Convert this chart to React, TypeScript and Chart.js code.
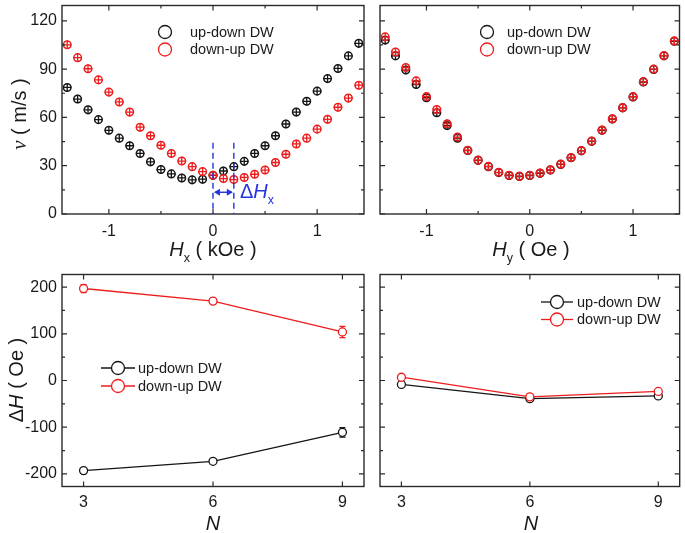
import React, { useEffect, useRef } from 'react';
import { Chart, registerables } from 'chart.js';

Chart.register(...registerables);

// ---------- data ----------
const hxValues = [-1.4, -1.3, -1.2, -1.1, -1.0, -0.9, -0.8, -0.7, -0.6, -0.5, -0.4, -0.3, -0.2, -0.1, 0, 0.1, 0.2, 0.3, 0.4, 0.5, 0.6, 0.7, 0.8, 0.9, 1.0, 1.1, 1.2, 1.3, 1.4];
const vxUpDown = [78.6, 71.4, 64.7, 58.6, 52.0, 47.1, 42.4, 37.6, 32.4, 27.6, 24.9, 22.4, 21.2, 21.6, 24.0, 26.7, 29.4, 32.7, 37.6, 42.4, 48.6, 55.9, 63.3, 70.0, 76.3, 84.1, 90.4, 98.2, 106.0];
const vxDownUp = [105.1, 97.1, 90.2, 83.3, 75.7, 69.6, 63.3, 53.9, 48.6, 42.7, 37.6, 32.9, 29.4, 26.3, 24.1, 22.0, 21.4, 22.7, 24.7, 27.3, 32.0, 37.1, 43.5, 47.1, 52.7, 58.8, 66.3, 72.0, 80.0];

const hyValues = [-1.4, -1.3, -1.2, -1.1, -1.0, -0.9, -0.8, -0.7, -0.6, -0.5, -0.4, -0.3, -0.2, -0.1, 0, 0.1, 0.2, 0.3, 0.4, 0.5, 0.6, 0.7, 0.8, 0.9, 1.0, 1.1, 1.2, 1.3, 1.4];
const vyUpDown = [108.0, 98.2, 89.4, 80.4, 72.2, 62.9, 54.9, 47.1, 39.4, 33.3, 29.4, 25.7, 23.9, 23.3, 23.9, 25.3, 27.3, 30.8, 34.9, 39.2, 45.1, 52.0, 59.0, 65.9, 72.7, 82.0, 89.8, 98.2, 107.3];
const vyDownUp = [110.0, 100.6, 91.0, 82.7, 72.9, 64.9, 56.1, 47.8, 39.6, 33.5, 29.6, 25.9, 24.1, 23.5, 24.1, 25.5, 27.5, 31.0, 35.1, 39.4, 45.3, 52.2, 59.2, 66.1, 72.9, 82.2, 90.0, 98.4, 107.5];

const nValues = [3, 6, 9];
const dHxUpDown = [-193, -173, -111];
const dHxUpDownErr = [4, 4, 10];
const dHxDownUp = [197, 170, 104];
const dHxDownUpErr = [8.5, 5, 12];
const dHyUpDown = [-8.5, -39, -33];
const dHyUpDownErr = [3, 3, 3];
const dHyDownUp = [7, -35, -23.5];
const dHyDownUpErr = [4, 3, 4];

const seriesLabels = ['up-down DW', 'down-up DW'];

const hRange = [-1.45, 1.45];
const vRange = [0, 129.5];
const nRange = [2.5, 9.5];
const dHRange = [-227, 227];

const hTicksMajor = [-1, 0, 1];
const hTicksMinor = [-0.5, 0.5];
const vTicksMajor = [0, 30, 60, 90, 120];
const vTicksMinor = [15, 45, 75, 105];
const nTicksMajor = [3, 6, 9];
const dHTicksMajor = [-200, -100, 0, 100, 200];
const dHTicksMinor = [-150, -50, 50, 150];

const deltaHxMarks = [0, 0.2];
const deltaHxLineTop = 44.3;
const deltaHxArrowY = 13.5;

// ---------- styles ----------
const BLACK = '#151515';
const RED = '#ee1c1c';
const BLUE = '#2234e0';
const FRAME = '#2a2a2a';
const SANS = '"Liberation Sans", Arial, Helvetica, sans-serif';

// ---------- plugins ----------
const framePlugin = {
  id: 'frame',
  afterDatasetsDraw(chart: any, _a: any, opts: any) {
    const { ctx, chartArea: a, scales } = chart;
    const xs = scales.x;
    const ys = scales.y;
    ctx.save();
    ctx.strokeStyle = FRAME;
    ctx.lineWidth = 1.4;
    ctx.strokeRect(a.left, a.top, a.right - a.left, a.bottom - a.top);
    ctx.lineWidth = 1.2;
    const drawX = (vals: number[], len: number) => {
      (vals || []).forEach((v) => {
        const px = xs.getPixelForValue(v);
        ctx.beginPath();
        ctx.moveTo(px, a.bottom);
        ctx.lineTo(px, a.bottom - len);
        ctx.moveTo(px, a.top);
        ctx.lineTo(px, a.top + len);
        ctx.stroke();
      });
    };
    const drawY = (vals: number[], len: number) => {
      (vals || []).forEach((v) => {
        const py = ys.getPixelForValue(v);
        ctx.beginPath();
        ctx.moveTo(a.left, py);
        ctx.lineTo(a.left + len, py);
        ctx.moveTo(a.right, py);
        ctx.lineTo(a.right - len, py);
        ctx.stroke();
      });
    };
    drawX(opts.xMajor, 5);
    drawX(opts.xMinor, 3);
    drawY(opts.yMajor, 5);
    drawY(opts.yMinor, 3);
    ctx.restore();
  },
};

const errorBarPlugin = {
  id: 'errbars',
  beforeDatasetsDraw(chart: any, _a: any, opts: any) {
    const errs = opts && opts.errors;
    if (!errs) return;
    const { ctx } = chart;
    const ys = chart.scales.y;
    chart.data.datasets.forEach((ds: any, i: number) => {
      const e = errs[i];
      if (!e) return;
      const meta = chart.getDatasetMeta(i);
      ctx.save();
      ctx.strokeStyle = ds.borderColor;
      ctx.lineWidth = 1.3;
      meta.data.forEach((pt: any, j: number) => {
        const v = ds.data[j].y;
        const y1 = ys.getPixelForValue(v - e[j]);
        const y2 = ys.getPixelForValue(v + e[j]);
        ctx.beginPath();
        ctx.moveTo(pt.x, y1);
        ctx.lineTo(pt.x, y2);
        ctx.moveTo(pt.x - 3, y1);
        ctx.lineTo(pt.x + 3, y1);
        ctx.moveTo(pt.x - 3, y2);
        ctx.lineTo(pt.x + 3, y2);
        ctx.stroke();
      });
      ctx.restore();
    });
  },
};

const legendPlugin = {
  id: 'boxlegend',
  afterDraw(chart: any, _a: any, opts: any) {
    if (!opts || !opts.items) return;
    const { ctx } = chart;
    ctx.save();
    opts.items.forEach((it: any, i: number) => {
      const y = opts.y + i * opts.dy;
      ctx.strokeStyle = it.color;
      ctx.lineWidth = 1.3;
      if (opts.line) {
        ctx.beginPath();
        ctx.moveTo(opts.cx - opts.half, y);
        ctx.lineTo(opts.cx + opts.half, y);
        ctx.stroke();
        ctx.fillStyle = '#fff';
        ctx.beginPath();
        ctx.arc(opts.cx, y, 6.5, 0, Math.PI * 2);
        ctx.fill();
        ctx.stroke();
      } else {
        ctx.beginPath();
        ctx.arc(opts.cx, y, 6.5, 0, Math.PI * 2);
        ctx.stroke();
      }
      ctx.fillStyle = '#1a1a1a';
      ctx.font = `14.5px ${SANS}`;
      ctx.textBaseline = 'middle';
      ctx.textAlign = 'left';
      ctx.fillText(it.text, opts.textX, y + 0.5);
    });
    ctx.restore();
  },
};

const deltaPlugin = {
  id: 'deltaH',
  afterDatasetsDraw(chart: any, _a: any, opts: any) {
    if (!opts || !opts.marks) return;
    const { ctx } = chart;
    const xs = chart.scales.x;
    const ys = chart.scales.y;
    const x0 = xs.getPixelForValue(opts.marks[0]);
    const x1 = xs.getPixelForValue(opts.marks[1]);
    const yt = ys.getPixelForValue(opts.top);
    const yb = ys.getPixelForValue(0);
    const ya = ys.getPixelForValue(opts.arrowY);
    ctx.save();
    ctx.strokeStyle = BLUE;
    ctx.fillStyle = BLUE;
    ctx.lineWidth = 1.4;
    ctx.setLineDash([6, 4]);
    [x0, x1].forEach((px) => {
      ctx.beginPath();
      ctx.moveTo(px, yt);
      ctx.lineTo(px, yb);
      ctx.stroke();
    });
    ctx.setLineDash([]);
    ctx.beginPath();
    ctx.moveTo(x0 + 2, ya);
    ctx.lineTo(x1 - 2, ya);
    ctx.stroke();
    ctx.beginPath();
    ctx.moveTo(x0 + 1, ya);
    ctx.lineTo(x0 + 7, ya - 3.5);
    ctx.lineTo(x0 + 7, ya + 3.5);
    ctx.closePath();
    ctx.fill();
    ctx.beginPath();
    ctx.moveTo(x1 - 1, ya);
    ctx.lineTo(x1 - 7, ya - 3.5);
    ctx.lineTo(x1 - 7, ya + 3.5);
    ctx.closePath();
    ctx.fill();
    ctx.restore();
  },
};

// ---------- builders ----------
const tickFont = { family: SANS, size: 16 };

function scaleOpts(range: number[], ticks: number[], showLabels: boolean, pad: number) {
  return {
    type: 'linear',
    min: range[0],
    max: range[1],
    grid: { display: false, drawTicks: false, tickLength: 0 },
    border: { display: false },
    afterBuildTicks: (s: any) => {
      s.ticks = ticks.map((v) => ({ value: v }));
    },
    ticks: {
      display: showLabels,
      font: tickFont,
      color: '#1a1a1a',
      padding: pad,
      maxRotation: 0,
      autoSkip: false,
      callback: (v: any) => String(v),
    },
  };
}

function markerSets(xs: number[], ys: number[], color: string, label: string, order: number) {
  const pts = xs.map((x, i) => ({ x, y: ys[i] }));
  return [
    {
      label,
      data: pts,
      showLine: false,
      pointStyle: 'circle',
      pointRadius: 3.8,
      pointBorderWidth: 1.5,
      pointBorderColor: color,
      pointBackgroundColor: 'rgba(255,255,255,0)',
      borderColor: color,
      order,
    },
    {
      label: label + ' bars',
      data: pts,
      showLine: false,
      pointStyle: 'cross',
      pointRadius: 4.2,
      pointBorderWidth: 1.3,
      pointBorderColor: color,
      borderColor: color,
      order,
    },
  ];
}

function lineSet(xs: number[], ys: number[], color: string, label: string, order: number) {
  return {
    label,
    data: xs.map((x, i) => ({ x, y: ys[i] })),
    showLine: true,
    borderColor: color,
    borderWidth: 1.3,
    pointStyle: 'circle',
    pointRadius: 4,
    pointBorderWidth: 1.3,
    pointBorderColor: color,
    pointBackgroundColor: '#ffffff',
    order,
  };
}

type Rect = { left: number; top: number; width: number; height: number };
type Area = { left: number; top: number; right: number; bottom: number };

function Panel({ rect, area, build }: { rect: Rect; area: Area; build: () => any }) {
  const ref = useRef<HTMLCanvasElement>(null);
  useEffect(() => {
    const cfg = build();
    cfg.options.layout = {
      padding: {
        left: 0,
        top: area.top - rect.top,
        right: rect.left + rect.width - area.right,
        bottom: 0,
      },
    };
    cfg.options.scales.x.afterFit = (s: any) => {
      s.height = rect.top + rect.height - area.bottom;
      s.paddingLeft = 0;
      s.paddingRight = 0;
    };
    cfg.options.scales.y.afterFit = (s: any) => {
      s.width = area.left - rect.left;
      s.paddingTop = 0;
      s.paddingBottom = 0;
    };
    const chart = new Chart(ref.current as HTMLCanvasElement, cfg);
    return () => chart.destroy();
  }, []);
  return (
    <canvas
      ref={ref}
      width={rect.width}
      height={rect.height}
      style={{ position: 'absolute', left: rect.left, top: rect.top, width: rect.width, height: rect.height, display: 'block' }}
    />
  );
}

function baseOptions(xs: any, ys: any, plugins: any) {
  return {
    responsive: false,
    animation: false,
    events: [],
    plugins: { legend: { display: false }, tooltip: { enabled: false }, ...plugins },
    scales: { x: xs, y: ys },
  };
}

const buildTL = () => ({
  type: 'scatter',
  data: {
    datasets: [
      ...markerSets(hxValues, vxUpDown, BLACK, seriesLabels[0], 2),
      ...markerSets(hxValues, vxDownUp, RED, seriesLabels[1], 1),
    ],
  },
  options: baseOptions(scaleOpts(hRange, hTicksMajor, true, 8), scaleOpts(vRange, vTicksMajor, true, 5), {
    frame: { xMajor: hTicksMajor, xMinor: hTicksMinor, yMajor: vTicksMajor, yMinor: vTicksMinor },
    boxlegend: { items: [{ text: seriesLabels[0], color: BLACK }, { text: seriesLabels[1], color: RED }], cx: 165, y: 32, dy: 17.5, textX: 190 },
    deltaH: { marks: deltaHxMarks, top: deltaHxLineTop, arrowY: deltaHxArrowY },
  }),
  plugins: [framePlugin, legendPlugin, deltaPlugin],
});

const buildTR = () => ({
  type: 'scatter',
  data: {
    datasets: [
      ...markerSets(hyValues, vyUpDown, BLACK, seriesLabels[0], 2),
      ...markerSets(hyValues, vyDownUp, RED, seriesLabels[1], 1),
    ],
  },
  options: baseOptions(scaleOpts(hRange, hTicksMajor, true, 8), scaleOpts(vRange, vTicksMajor, false, 5), {
    frame: { xMajor: hTicksMajor, xMinor: hTicksMinor, yMajor: vTicksMajor, yMinor: vTicksMinor },
    boxlegend: { items: [{ text: seriesLabels[0], color: BLACK }, { text: seriesLabels[1], color: RED }], cx: 115, y: 32, dy: 17.5, textX: 135 },
  }),
  plugins: [framePlugin, legendPlugin],
});

const buildBL = () => ({
  type: 'scatter',
  data: {
    datasets: [
      lineSet(nValues, dHxUpDown, BLACK, seriesLabels[0], 2),
      lineSet(nValues, dHxDownUp, RED, seriesLabels[1], 1),
    ],
  },
  options: baseOptions(scaleOpts(nRange, nTicksMajor, true, 6), scaleOpts(dHRange, dHTicksMajor, true, 5), {
    frame: { xMajor: nTicksMajor, xMinor: [], yMajor: dHTicksMajor, yMinor: dHTicksMinor },
    errbars: { errors: [dHxUpDownErr, dHxDownUpErr] },
    boxlegend: { items: [{ text: seriesLabels[0], color: BLACK }, { text: seriesLabels[1], color: RED }], line: true, cx: 118, half: 17, y: 106, dy: 18, textX: 138 },
  }),
  plugins: [errorBarPlugin, framePlugin, legendPlugin],
});

const buildBR = () => ({
  type: 'scatter',
  data: {
    datasets: [
      lineSet(nValues, dHyUpDown, BLACK, seriesLabels[0], 2),
      lineSet(nValues, dHyDownUp, RED, seriesLabels[1], 1),
    ],
  },
  options: baseOptions(scaleOpts(nRange, nTicksMajor, true, 6), scaleOpts(dHRange, dHTicksMajor, false, 5), {
    frame: { xMajor: nTicksMajor, xMinor: [], yMajor: dHTicksMajor, yMinor: dHTicksMinor },
    errbars: { errors: [dHyUpDownErr, dHyDownUpErr] },
    boxlegend: { items: [{ text: seriesLabels[0], color: BLACK }, { text: seriesLabels[1], color: RED }], line: true, cx: 185, half: 16, y: 40, dy: 17.5, textX: 205 },
  }),
  plugins: [errorBarPlugin, framePlugin, legendPlugin],
});

// ---------- text ----------
function Txt({ x, y, rotate, align, color, children }: any) {
  const tx = align === 'left' ? 'translate(0,-50%)' : 'translate(-50%,-50%)';
  return (
    <div
      style={{
        position: 'absolute',
        left: x,
        top: y,
        transform: tx + (rotate ? ' rotate(-90deg)' : ''),
        font: `20px ${SANS}`,
        color: color || '#1a1a1a',
        whiteSpace: 'nowrap',
        lineHeight: 1,
      }}
    >
      {children}
    </div>
  );
}

const subStyle: any = { fontSize: '12.5px', verticalAlign: '-0.45em', lineHeight: 0 };

export default function App() {
  return (
    <div style={{ position: 'absolute', left: 0, top: 0, width: 685, height: 533, background: '#fff', overflow: 'hidden' }}>
      <Panel rect={{ left: 0, top: 0, width: 372, height: 262 }} area={{ left: 62, top: 2.5, right: 364, bottom: 214 }} build={buildTL} />
      <Panel rect={{ left: 372, top: 0, width: 313, height: 262 }} area={{ left: 380, top: 2.5, right: 683, bottom: 214 }} build={buildTR} />
      <Panel rect={{ left: 0, top: 262, width: 372, height: 271 }} area={{ left: 62, top: 274.5, right: 364, bottom: 486.5 }} build={buildBL} />
      <Panel rect={{ left: 372, top: 262, width: 313, height: 271 }} area={{ left: 380, top: 274.5, right: 683, bottom: 486.5 }} build={buildBR} />

      <Txt x={19} y={114} rotate>
        <span style={{ fontFamily: '"Liberation Serif", "Times New Roman", serif', fontStyle: 'italic', fontSize: '21px' }}>v</span> ( m/s )
      </Txt>
      <Txt x={213} y={249}>
        <i>H</i>
        <sub style={subStyle}>x</sub> ( kOe )
      </Txt>
      <Txt x={531} y={249}>
        <i>H</i>
        <sub style={subStyle}>y</sub> ( Oe )
      </Txt>
      <Txt x={16} y={380} rotate>
        Δ<i>H</i> ( Oe )
      </Txt>
      <Txt x={213} y={523}>
        <i>N</i>
      </Txt>
      <Txt x={531} y={523}>
        <i>N</i>
      </Txt>
      <Txt x={240} y={191} align="left" color={BLUE}>
        Δ<i>H</i>
        <sub style={subStyle}>x</sub>
      </Txt>
    </div>
  );
}
